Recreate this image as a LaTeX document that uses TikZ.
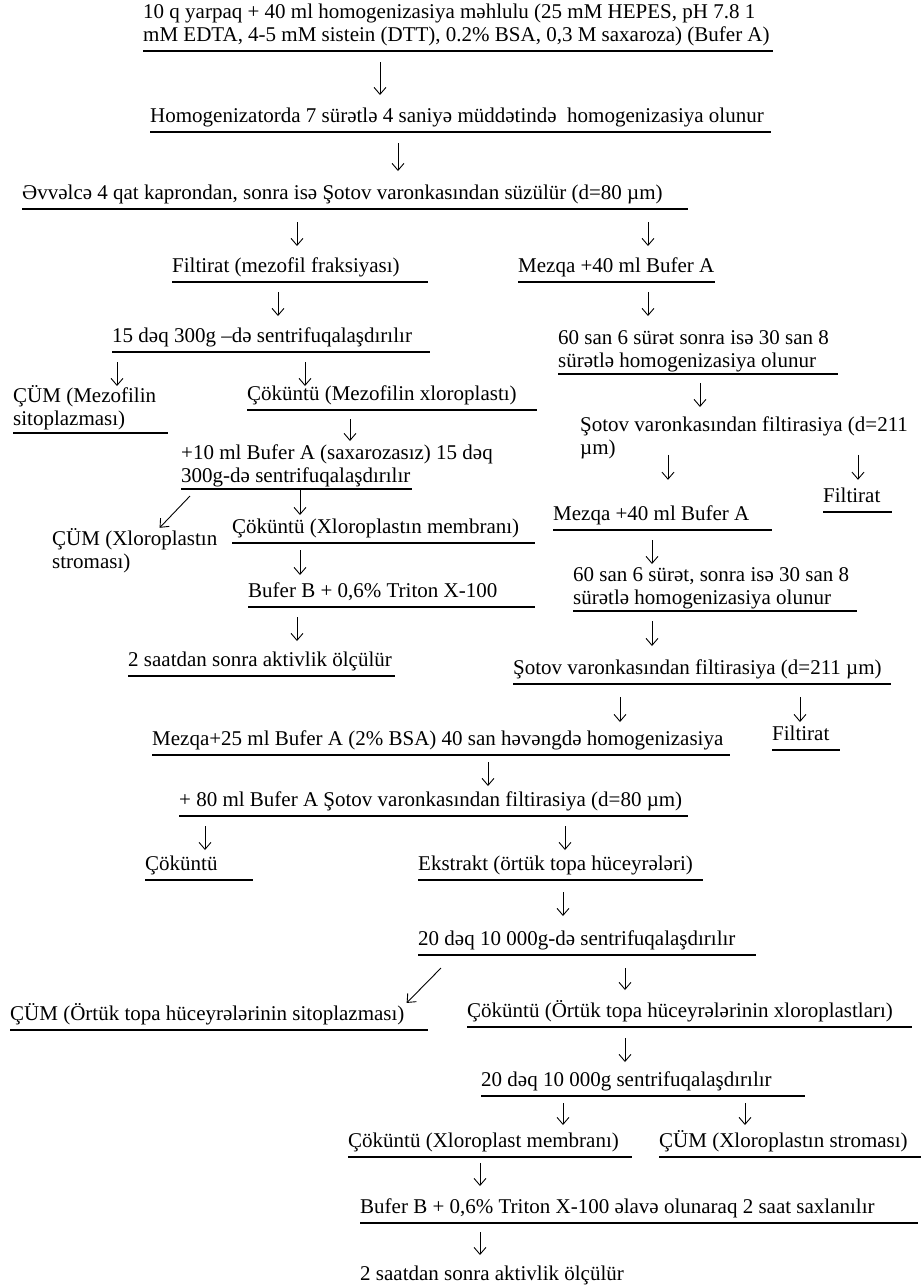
\documentclass[tikz,border=0pt]{standalone}
\usepackage{fontspec}
\setmainfont{Liberation Serif}
\usetikzlibrary{arrows.meta, calc}

\begin{document}
\begin{tikzpicture}[x=1pt, y=-1pt,
    stage/.style={anchor=south west, inner sep=0pt, align=left, text depth=9pt,
      font=\fontsize{21}{23}\selectfont},
    arrgap/.store in=\arrgap, arrlen/.store in=\arrlen, arrgap=10pt, arrlen=24pt,
    arr/.style={-{Straight Barb[length=7pt,width=12pt]}, line width=0.9pt,
      to path={([yshift=-\arrgap]\tikztostart) -- ($([yshift=-\arrgap]\tikztostart)!\arrlen!(\tikztotarget)$)}},
    rule/.style={line width=1.2pt}]
  \useasboundingbox (0,0) rectangle (921,1286);

  % upper part
  \node[stage] (s1) at (143,51) {10 q yarpaq + 40 ml homogenizasiya məhlulu (25 mM HEPES, pH 7.8 1\\mM EDTA, 4-5 mM sistein (DTT), 0.2\% BSA, 0,3 M saxaroza) (Bufer A)};
  \node[stage] (s2) at (150,132) {Homogenizatorda 7 sürətlə 4 saniyə müddətində\ \ homogenizasiya olunur};
  \node[stage] (s3) at (22,209) {Əvvəlcə 4 qat kaprondan, sonra isə Şotov varonkasından süzülür (d=80 µm)};
  \node[stage] (s4a) at (172,282) {Filtirat (mezofil fraksiyası)};
  \node[stage] (s4b) at (518,282) {Mezqa +40 ml Bufer A};
  \node[stage] (s5a) at (112,352) {15 dəq 300g –də sentrifuqalaşdırılır};
  \node[stage, text depth=6pt] (s5b) at (558,374) {60 san 6 sürət sonra isə 30 san 8\\sürətlə homogenizasiya olunur};
  \node[stage, text depth=7pt] (s6a) at (13,433) {ÇÜM (Mezofilin\\sitoplazması)};
  \node[stage] (s6b) at (247,410) {Çöküntü (Mezofilin xloroplastı)};
  \node[stage] (s6c) at (580,464) {Şotov varonkasından filtirasiya (d=211\\µm)};
  \node[stage, text depth=6pt] (s7) at (181,489) {+10 ml Bufer A (saxarozasız) 15 dəq\\300g-də sentrifuqalaşdırılır};
  \node[stage] (s7r) at (823,512) {Filtirat};
  \node[stage] (s8a) at (52,578) {ÇÜM (Xloroplastın\\stroması)};
  \node[stage] (s8b) at (232,543) {Çöküntü (Xloroplastın membranı)};
  \node[stage] (s8c) at (553,530) {Mezqa +40 ml Bufer A};
  \node[stage] (s9a) at (248,607) {Bufer B + 0,6\% Triton X-100};
  \node[stage, text depth=6pt] (s9b) at (573,611) {60 san 6 sürət, sonra isə 30 san 8\\sürətlə homogenizasiya olunur};
  \node[stage] (s10a) at (128,676) {2 saatdan sonra aktivlik ölçülür};
  \node[stage] (s10b) at (513,684) {Şotov varonkasından filtirasiya (d=211 µm)};

  % lower part
  \node[stage] (s11) at (152,755) {Mezqa+25 ml Bufer A (2\% BSA) 40 san həvəngdə homogenizasiya};
  \node[stage] (s11r) at (772,750) {Filtirat};
  \node[stage] (s12) at (179,816) {+ 80 ml Bufer A Şotov varonkasından filtirasiya (d=80 µm)};
  \node[stage] (s13a) at (145,880) {Çöküntü};
  \node[stage] (s13b) at (418,880) {Ekstrakt (örtük topa hüceyrələri)};
  \node[stage] (s14) at (418,955) {20 dəq 10 000g-də sentrifuqalaşdırılır};
  \node[stage] (s15a) at (10,1030) {ÇÜM (Örtük topa hüceyrələrinin sitoplazması)};
  \node[stage] (s15b) at (467,1027) {Çöküntü (Örtük topa hüceyrələrinin xloroplastları)};
  \node[stage] (s16) at (481,1096) {20 dəq 10 000g sentrifuqalaşdırılır};
  \node[stage] (s17a) at (348,1157) {Çöküntü (Xloroplast membranı)};
  \node[stage] (s17b) at (659,1157) {ÇÜM (Xloroplastın stroması)};
  \node[stage] (s18) at (360,1223) {Bufer B + 0,6\% Triton X-100 əlavə olunaraq 2 saat saxlanılır};
  \node[stage] (s19) at (360,1290) {2 saatdan sonra aktivlik ölçülür};

  % underlines
  \foreach \n/\w in {s1/630, s2/621, s3/666, s4a/256, s4b/197, s5a/318, s5b/280,
      s6a/155, s6b/290, s7/231, s7r/69, s8b/303, s8c/219, s9a/287, s9b/284,
      s10a/267, s10b/378, s11/578, s11r/68, s12/509, s13a/108, s13b/285,
      s14/338, s15a/418, s15b/445, s16/324, s17a/284, s17b/262, s18/558}
    \draw[rule] (\n.south west) -- ++(\w,0);

  % arrows
  \draw[arr, arrgap=11pt, arrlen=33pt] (s1.south -| 380,0) to (s2.north -| 380,0);
  \draw[arr, arrgap=11pt, arrlen=28pt] (s2.south -| 398,0) to (s3.north -| 398,0);
  \draw[arr, arrgap=13pt] (s3.south -| 297,0) to (s4a.north -| 297,0);
  \draw[arr, arrgap=13pt] (s3.south -| 648,0) to (s4b.north -| 648,0);
  \draw[arr] (s4a.south -| 278,0) to (s5a.north -| 278,0);
  \draw[arr] (s4b.south -| 648,0) to (s5b.north -| 648,0);
  \draw[arr] (s5a.south -| 117,0) to (s6a.north -| 117,0);
  \draw[arr] (s5a.south -| 305,0) to (s6b.north -| 305,0);
  \draw[arr, arrgap=9pt] (s5b.south -| 700,0) to (s6c.north -| 700,0);
  \draw[arr, arrgap=9pt, arrlen=22pt] (s6b.south -| 350,0) to (s7.north -| 350,0);
  \draw[arr, arrgap=0pt, arrlen=25pt] (s6c.base -| 668,0) to (s8c.north -| 668,0);
  \draw[arr, arrgap=0pt, arrlen=25pt] (s6c.base -| 858,0) to (s7r.north -| 858,0);
  \draw[arr, arrgap=0pt, arrlen=44pt] ([shift={(9,7)}]s7.south west) to ([shift={(103,4)}]s8a.north west);
  \draw[arr, arrgap=0pt, arrlen=26pt] (s7.south -| 300,0) to (s8b.north -| 300,0);
  \draw[arr, arrgap=7pt, arrlen=25pt] (s8b.south -| 300,0) to (s9a.north -| 300,0);
  \draw[arr] (s8c.south -| 652,0) to (s9b.north -| 652,0);
  \draw[arr] (s9a.south -| 297,0) to (s10a.north -| 297,0);
  \draw[arr, arrlen=25pt] (s9b.south -| 652,0) to (s10b.north -| 652,0);
  \draw[arr, arrgap=13pt, arrlen=25pt] (s10b.south -| 620,0) to (s11.north -| 620,0);
  \draw[arr, arrgap=13pt, arrlen=25pt] (s10b.south -| 800,0) to (s11r.north -| 800,0);
  \draw[arr, arrgap=7pt] (s11.south -| 488,0) to (s12.north -| 488,0);
  \draw[arr] (s12.south -| 205,0) to (s13a.north -| 205,0);
  \draw[arr] (s12.south -| 565,0) to (s13b.north -| 565,0);
  \draw[arr, arrgap=12pt] (s13b.south -| 563,0) to (s14.north -| 563,0);
  \draw[arr, arrgap=0pt, arrlen=49pt] ([shift={(23,13)}]s14.south west) to ([shift={(396,0)}]s15a.north west);
  \draw[arr, arrgap=13pt, arrlen=22pt] (s14.south -| 625,0) to (s15b.north -| 625,0);
  \draw[arr, arrgap=11pt] (s15b.south -| 625,0) to (s16.north -| 625,0);
  \draw[arr, arrgap=7pt, arrlen=22pt] (s16.south -| 563,0) to (s17a.north -| 563,0);
  \draw[arr, arrgap=7pt, arrlen=22pt] (s16.south -| 745,0) to (s17b.north -| 745,0);
  \draw[arr, arrgap=6pt, arrlen=23pt] (s17a.south -| 480,0) to (s18.north -| 480,0);
  \draw[arr, arrgap=9pt, arrlen=23pt] (s18.south -| 480,0) to (s19.north -| 480,0);
\end{tikzpicture}
\end{document}
